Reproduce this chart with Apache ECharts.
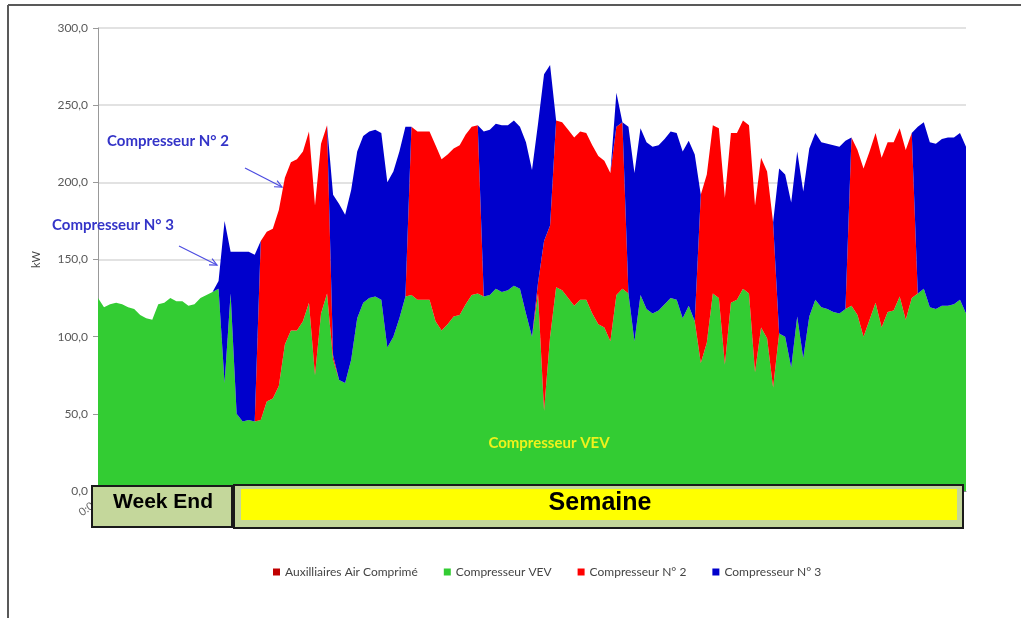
<!DOCTYPE html>
<html><head><meta charset="utf-8">
<script src="https://cdn.jsdelivr.net/npm/echarts@6/dist/echarts.min.js"></script>
<style>html,body{margin:0;padding:0;background:#fff}#c{width:1021px;height:618px}</style>
</head><body><div id="c"></div>
<script>
// Compresseur VEV (kW)
const vev = [125,119,121,122,121,119,118,114,112,111,121,122,125,123,123,120,121,125,127,129,
131,70,128,50,45,46,45,46,58,60,68,95,104,104,110,122,75,115,128,85,
72,70,85,112,122,125,126,124,93,100,112,126,127,124,124,124,110,104,108,113,
114,121,127,128,126,127,131,129,130,133,131,115,100,128,52,100,132,130,125,120,
124,124,115,108,106,97,127,131,128,97,127,118,115,117,121,125,124,112,120,110,
83,96,128,125,82,122,124,131,128,77,106,99,67,102,100,80,113,86,113,124,
119,118,116,115,118,120,114,100,111,122,106,116,117,126,111,125,128,131,119,118,
120,120,121,124,115];
// Compresseur N° 2 (kW)
const n2 = [0,0,0,0,0,0,0,0,0,0,0,0,0,0,0,0,0,0,0,0,
0,0,0,0,0,0,0,116,110,110,114,108,109,111,110,111,110,110,109,3,
0,0,0,0,0,0,0,0,0,0,0,0,109,109,109,109,114,111,110,109,
110,110,109,109,0,0,0,0,0,0,0,0,0,7,110,72,108,109,109,109,
109,108,109,109,108,109,109,108,0,0,0,0,0,0,0,0,0,0,0,0,
109,109,109,110,108,110,108,109,109,108,110,108,107,0,0,0,0,0,0,0,
0,0,0,0,0,109,107,109,109,110,110,110,109,109,110,107,0,0,0,0,
0,0,0,0,0];
// Compresseur N° 3 (kW)
const n3 = [0,0,0,0,0,0,0,0,0,0,0,0,0,0,0,0,0,0,0,0,
5,105,27,105,110,109,108,0,0,0,0,0,0,0,0,0,0,0,0,104,
114,109,110,108,108,108,108,108,107,107,108,110,0,0,0,0,0,0,0,0,
0,0,0,0,107,107,107,108,107,107,105,111,108,103,108,104,0,0,0,0,
0,0,0,0,0,0,22,0,108,109,108,108,108,107,107,108,108,108,107,108,
0,0,0,0,0,0,0,0,0,0,0,0,0,107,105,107,107,108,109,108,
107,107,108,108,109,0,0,0,0,0,0,0,0,0,0,0,108,108,107,107,
108,109,108,108,108];
// Auxilliaires Air Comprimé (no visible values)
const aux = [];
const categories = vev.map((_, i) => (i % 24) + ':00');
const yTicks = {min: 0, max: 300, interval: 50};
const names = ['Auxilliaires Air Comprimé', 'Compresseur VEV', 'Compresseur N° 2', 'Compresseur N° 3'];
const colors = ['#c00000', '#33cc33', '#ff0000', '#0000cc'];

const chart = echarts.init(document.getElementById('c'));
function areaSeries(name, data, color) {
  return {name, type: 'line', stack: 'total', data, symbol: 'none', showSymbol: false,
    lineStyle: {width: 0, color}, itemStyle: {color}, areaStyle: {color, opacity: 1}};
}
function arrow(x1, y1, x2, y2) {
  const dx = x2 - x1, dy = y2 - y1, L = Math.hypot(dx, dy);
  const bx = -dx / L, by = -dy / L, c = Math.cos(0.44), s = Math.sin(0.44), h = 8;
  const p1 = [x2 + h * (bx * c - by * s), y2 + h * (bx * s + by * c)];
  const p2 = [x2 + h * (bx * c + by * s), y2 + h * (-bx * s + by * c)];
  return [
    {type: 'line', shape: {x1, y1, x2, y2}, style: {stroke: '#4b4be0', lineWidth: 1.2}, z: 100},
    {type: 'polyline', shape: {points: [p1, [x2, y2], p2]}, style: {stroke: '#4b4be0', lineWidth: 1.2, fill: null}, z: 100}
  ];
}
chart.setOption({
  animation: false,
  backgroundColor: '#fff',
  color: colors,
  grid: {left: 98, right: 55, top: 28, bottom: 127, containLabel: false},
  legend: {
    data: names, left: 268, top: 561, icon: 'rect', itemWidth: 7, itemHeight: 7, itemGap: 26,
    textStyle: {fontFamily: 'Lato', fontSize: 12, color: '#444'}
  },
  xAxis: {
    type: 'category', data: categories, boundaryGap: false,
    axisLine: {show: true, lineStyle: {color: '#888'}},
    axisTick: {show: false},
    axisLabel: {interval: (i) => i === 0, rotate: 35, fontSize: 11, color: '#666', fontFamily: 'Lato', margin: 10}
  },
  yAxis: {
    type: 'value', min: yTicks.min, max: yTicks.max, interval: yTicks.interval,
    name: 'kW', nameLocation: 'middle', nameGap: 56, nameRotate: 90,
    nameTextStyle: {fontFamily: 'Lato', fontSize: 11, color: '#444'},
    axisLine: {show: true, lineStyle: {color: '#999', width: 1}},
    axisTick: {show: true, length: 5, lineStyle: {color: '#999'}},
    axisLabel: {fontFamily: 'Lato', fontSize: 12, color: '#595959', margin: 10,
      formatter: (v) => v.toFixed(1).replace('.', ',')},
    splitLine: {lineStyle: {color: '#d9d9d9', width: 1.5}}
  },
  series: [
    areaSeries(names[0], aux, colors[0]),
    areaSeries(names[1], vev, colors[1]),
    areaSeries(names[2], n2, colors[2]),
    areaSeries(names[3], n3, colors[3])
  ],
  graphic: [
    {type: 'line', shape: {x1: 8, y1: 5, x2: 1021, y2: 5}, style: {stroke: '#595959', lineWidth: 2}, z: 100},
    {type: 'line', shape: {x1: 8, y1: 5, x2: 8, y2: 618}, style: {stroke: '#595959', lineWidth: 2}, z: 100},
    {type: 'rect', shape: {x: 92, y: 486, width: 140, height: 41}, style: {fill: '#c4d79b', stroke: '#1a1a1a', lineWidth: 2}, z: 100},
    {type: 'text', x: 163, y: 502, style: {text: 'Week End', font: 'bold 21px "Liberation Sans"', fill: '#000', align: 'center', verticalAlign: 'middle'}, z: 101},
    {type: 'rect', shape: {x: 234, y: 485, width: 729, height: 43}, style: {fill: '#c4d79b', stroke: '#1a1a1a', lineWidth: 2}, z: 100},
    {type: 'rect', shape: {x: 241, y: 489, width: 716, height: 31}, style: {fill: '#ffff00'}, z: 101},
    {type: 'text', x: 600, y: 503, style: {text: 'Semaine', font: 'bold 25px "Liberation Sans"', fill: '#000', align: 'center', verticalAlign: 'middle'}, z: 102},
    {type: 'text', x: 168, y: 141, style: {text: 'Compresseur N° 2', font: 'bold 15px Lato', fill: '#3434c8', align: 'center', verticalAlign: 'middle'}, z: 100},
    {type: 'text', x: 113, y: 225, style: {text: 'Compresseur N° 3', font: 'bold 15px Lato', fill: '#3434c8', align: 'center', verticalAlign: 'middle'}, z: 100},
    {type: 'text', x: 549, y: 443, style: {text: 'Compresseur VEV', font: 'bold 15px Lato', fill: '#eef21c', align: 'center', verticalAlign: 'middle'}, z: 100},
    ...arrow(245, 168, 282, 187),
    ...arrow(179, 246, 217, 265)
  ]
});
</script></body></html>
